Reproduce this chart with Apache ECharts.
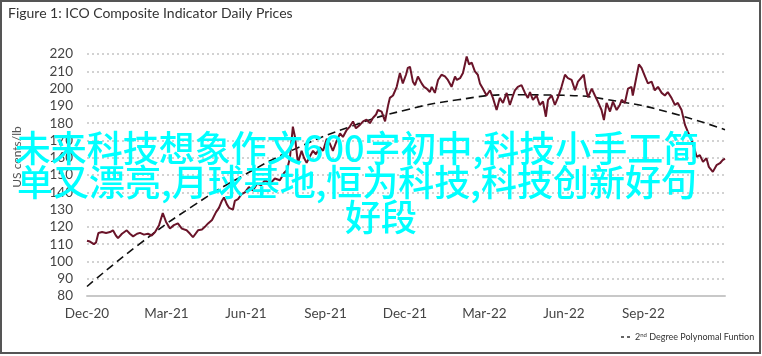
<!DOCTYPE html>
<html>
<head>
<meta charset="utf-8">
<script src="https://cdn.jsdelivr.net/npm/echarts@6/dist/echarts.min.js"></script>
<style>html,body{margin:0;padding:0;background:#fff;}#c{width:762px;height:356px;}</style>
</head>
<body>
<div id="c"></div>
<script>
// x positions: months elapsed since start of Dec-20
const monthPos = [0,0.11,0.26,0.34,0.43,0.57,0.72,0.87,0.98,1.09,1.17,1.32,1.50,1.62,1.74,1.89,2.00,2.15,2.30,2.44,2.57,2.72,2.86,2.98,3.13,3.28,3.43,3.58,3.76,3.89,4.00,4.19,4.34,4.45,4.57,4.72,4.87,4.98,5.09,5.17,5.28,5.36,5.51,5.58,5.70,5.84,5.96,6.11,6.26,6.42,6.57,6.72,6.91,7.09,7.28,7.43,7.55,7.66,7.77,7.85,7.96,8.10,8.19,8.29,8.42,8.53,8.64,8.79,8.91,9.05,9.17,9.28,9.43,9.55,9.66,9.80,9.92,10.04,10.15,10.30,10.42,10.55,10.68,10.79,10.91,10.98,11.12,11.25,11.36,11.43,11.55,11.69,11.81,11.92,12.04,12.11,12.19,12.30,12.38,12.49,12.63,12.72,12.82,12.94,13.01,13.13,13.25,13.38,13.51,13.62,13.76,13.89,13.96,14.08,14.19,14.33,14.42,14.52,14.64,14.75,14.83,14.94,15.08,15.21,15.32,15.46,15.58,15.70,15.84,15.96,16.08,16.15,16.26,16.40,16.53,16.64,16.72,16.83,16.97,17.09,17.21,17.32,17.40,17.54,17.66,17.77,17.91,18.04,18.15,18.29,18.42,18.53,18.60,18.75,18.83,18.91,19.05,19.17,19.28,19.42,19.51,19.61,19.74,19.85,19.99,20.11,20.18,20.30,20.42,20.55,20.60,20.74,20.83,20.93,21.06,21.17,21.31,21.43,21.55,21.69,21.81,21.92,22.06,22.19,22.30,22.44,22.57,22.68,22.82,22.94,23.01,23.13,23.25,23.38,23.47,23.62,23.76,23.89,23.99,24.08];
const prices = [112,111.5,110,111,116.5,117,116.5,117,118,115,113.5,116,118,116,114.5,116,116.5,115.5,116,115,117,121,128,123,119,121,122,119,118,116,114,118,118.5,120,122,124,128.5,131,135,137,133,131,130,135,136,139,140,143,141,145,144,147,145,148,147,151,153,160,178,172,157,164,160,157,161,164,162,166,164,171,168,164,170,174,172,176,178,181,177,179,181,182,180,183,185,187.6,186.7,181,190,194.6,196,201,209,203,208,212,212.6,204,202,207,203,201,200,198,201,197.5,205,208,207,205,201,207,205,206,209,218.6,214,215,210,208,203,200,196,199,194.6,187.6,194.6,191.7,197.5,190.5,196,199,201,202,197.5,194.6,198,193.5,196,190.5,192.5,183.7,193.5,196,190.5,194.6,201,208,206,205,199,204,205,208,200,195,200,196,192.5,187.6,181.8,191.7,186.7,192.5,187.6,190.5,193.5,191.7,200,201,196,207,214,212,207,203,204,199,201,197.5,196,198,194.6,190.5,191.7,187.6,179,175,170.2,164.4,160.5,161.5,157.6,159.7,154.7,151.8,155.7,156.8,158.6,159.5];
// 2nd degree polynomial trend, read at two-month steps
const trendPos = [0,2,4,6,8,10,12,14,16,18,20,22,24.08];
const trendVals = [85.5,110.3,132.1,150.6,166.1,178.3,187.5,193.5,196.4,196.1,192.7,186.1,176.2];
const tickLabels = ['Dec-20','Mar-21','Jun-21','Sep-21','Dec-21','Mar-22','Jun-22','Sep-22'];

const chart = echarts.init(document.getElementById('c'), null, {renderer:'canvas'});
const font = 'Lato, "Open Sans", sans-serif';
const option = {
  animation:false,
  backgroundColor:'#fff',
  grid:{left:87,right:37,top:54,bottom:60},
  xAxis:{type:'value',min:0,max:24.08,interval:3,
    axisLine:{show:true,lineStyle:{color:'#c8c8c8',width:2}},
    axisTick:{show:false},splitLine:{show:false},
    axisLabel:{show:true,showMaxLabel:false,margin:11,color:'#444',fontSize:13.5,fontFamily:font,
      formatter:v=>{const i=Math.round(v/3);return (Math.abs(v-i*3)<0.01&&i<tickLabels.length)?tickLabels[i]:'';}}
  },
  yAxis:{type:'value',min:80,max:220,interval:10,
    axisLine:{show:false},axisTick:{show:false},
    axisLabel:{margin:14,color:'#444',fontSize:13.5,fontFamily:font},
    splitLine:{show:true,lineStyle:{color:'#c4c4c4',type:[2,3],width:1.5}}
  },
  series:[
    {type:'line',data:monthPos.map((m,i)=>[m,prices[i]]),showSymbol:false,symbol:'none',
     lineStyle:{color:'#6a1429',width:2},z:3},
    {type:'line',data:trendPos.map((m,i)=>[m,trendVals[i]]),showSymbol:false,symbol:'none',smooth:true,
     lineStyle:{color:'#111',width:1.6,type:[8,5]},z:2}
  ],
  graphic:[
    {type:'rect',shape:{x:1,y:1,width:759,height:352},style:{fill:'none',stroke:'#555',lineWidth:2},z:100},
    {type:'text',left:8,top:6,style:{text:'Figure 1: ICO Composite Indicator Daily Prices',font:'14px '+font,fill:'#333'}},
    {type:'text',x:17,y:157,rotation:Math.PI/2,style:{text:'US cents/lb',font:'12px '+font,fill:'#555',align:'center',verticalAlign:'middle'}},
    {type:'line',shape:{x1:621,y1:337,x2:631,y2:337},style:{stroke:'#333',lineWidth:1.5,lineDash:[3,3]}},
    {type:'text',x:635,y:337,style:{text:'{a|2}{s|nd}{a| Degree Polynomal Funtion}',verticalAlign:'middle',
      rich:{a:{fontSize:9,fontFamily:font,fill:'#333'},s:{fontSize:6,fontFamily:font,fill:'#333',verticalAlign:'top'}}}},
    {type:'text',x:357,y:148,z:50,style:{text:'未来科技想象作文600字初中,科技小手工简',font:'500 36px "Noto Sans CJK SC"',fill:'#00ffff',align:'center',verticalAlign:'middle'}},
    {type:'text',x:357,y:182,z:50,style:{text:'单又漂亮,月球基地,恒为科技,科技创新好句',font:'500 36px "Noto Sans CJK SC"',fill:'#00ffff',align:'center',verticalAlign:'middle'}},
    {type:'text',x:381,y:217,z:50,style:{text:'好段',font:'500 36px "Noto Sans CJK SC"',fill:'#00ffff',align:'center',verticalAlign:'middle'}}
  ]
};
chart.setOption(option);
</script>
</body>
</html>
